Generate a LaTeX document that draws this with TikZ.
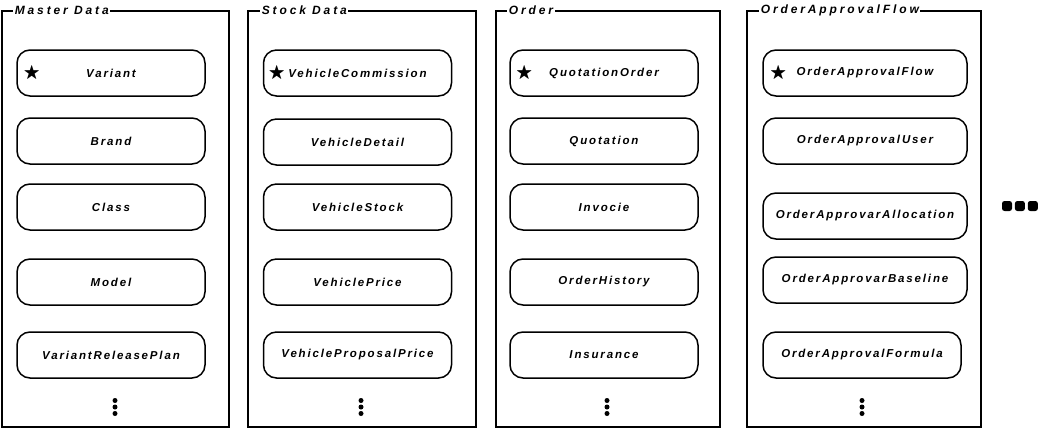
\documentclass[tikz,border=0pt]{standalone}
\usepackage{fontspec}
\usepackage{amssymb}
\usepackage{tikz}
\usetikzlibrary{positioning}
\newfontfamily\sketchfont{Liberation Sans}[LetterSpace=16]
\newfontfamily\titlefont{Liberation Sans}[LetterSpace=24]

\tikzset{
    group/.style={draw, line width=1.8pt, minimum width=227pt, minimum height=416pt},
    grouptitle/.style={fill=white, inner sep=1.5pt, anchor=west,
        font=\titlefont\bfseries\itshape\fontsize{12}{13}\selectfont},
    entity/.style={draw, line width=1.5pt, rounded corners=13pt, minimum width=188pt,
        minimum height=46pt, font=\sketchfont\bfseries\itshape\fontsize{11.5}{13}\selectfont},
    keymark/.style={inner sep=0pt, font=\LARGE},
    bigdot/.style={fill, rounded corners=2.5pt, minimum size=10pt, inner sep=0pt},
}

\begin{document}
\begin{tikzpicture}[x=1pt, y=-1pt]
    \useasboundingbox (0,0) rectangle (1047,431);

    % groups
    \node[group] (gMaster) at (115.5,219) {};
    \node[group, minimum width=228pt] (gStock) at (362,219) {};
    \node[group, minimum width=224pt] (gOrder) at (608,219) {};
    \node[group, minimum width=234pt] (gFlow) at (864,219) {};
    \node[grouptitle] at ([xshift=12pt]gMaster.north west) {Master Data};
    \node[grouptitle] at ([xshift=13pt]gStock.north west) {Stock Data};
    \node[grouptitle] at ([xshift=12pt]gOrder.north west) {Order};
    \node[grouptitle] at ([xshift=13pt]gFlow.north west) {OrderApprovalFlow};

    % master data
    \node[entity] (eVariant) at (111,73) {Variant};
    \node[entity] (eBrand) at (111,141) {Brand};
    \node[entity] (eClass) at (111,207) {Class};
    \node[entity] (eModel) at (111,282) {Model};
    \node[entity] (eReleasePlan) at (111,355) {VariantReleasePlan};
    \node[keymark] (kVariant) at ([xshift=15.5pt]eVariant.west) {$\bigstar$};

    % stock data
    \node[entity] (eCommission) at (357.5,73) {VehicleCommission};
    \node[entity] (eDetail) at (357.5,142) {VehicleDetail};
    \node[entity] (eStock) at (357.5,207) {VehicleStock};
    \node[entity] (ePrice) at (357.5,282) {VehiclePrice};
    \node[entity] (eProposal) at (357.5,355) {VehicleProposalPrice};
    \node[keymark] (kCommission) at ([xshift=14pt]eCommission.west) {$\bigstar$};

    % order
    \node[entity] (eQuotationOrder) at (604,73) {QuotationOrder};
    \node[entity] (eQuotation) at (604,141) {Quotation};
    \node[entity] (eInvoice) at (604,207) {Invocie};
    \node[entity] (eHistory) at (604,282) {OrderHistory};
    \node[entity] (eInsurance) at (604,355) {Insurance};
    \node[keymark] (kQuotationOrder) at ([xshift=15pt]eQuotationOrder.west) {$\bigstar$};

    % order approval flow
    \node[entity, minimum width=204pt] (eFlow) at (865,73) {OrderApprovalFlow};
    \node[entity, minimum width=204pt] (eUser) at (865,141) {OrderApprovalUser};
    \node[entity, minimum width=204pt] (eAllocation) at (865,216) {OrderApprovarAllocation};
    \node[entity, minimum width=204pt] (eBaseline) at (865,280) {OrderApprovarBaseline};
    \node[entity, minimum width=198pt] (eFormula) at (862,355) {OrderApprovalFormula};
    \node[keymark] (kFlow) at ([xshift=16pt]eFlow.west) {$\bigstar$};

    % more below
    \coordinate (mMaster) at (115,407);
    \coordinate (mStock) at (361,407);
    \coordinate (mOrder) at (607,407);
    \coordinate (mFlow) at (862,407);
    \foreach \m in {mMaster, mStock, mOrder, mFlow}
        \foreach \dy in {-6.5,0,6.5}
            \fill ([yshift=\dy pt]\m) circle (2.5pt);

    % more groups
    \node[bigdot] (more1) at (1007,206) {};
    \node[bigdot] (more2) [right=2.5pt of more1] {};
    \node[bigdot] (more3) [right=2.5pt of more2] {};
\end{tikzpicture}
\end{document}
